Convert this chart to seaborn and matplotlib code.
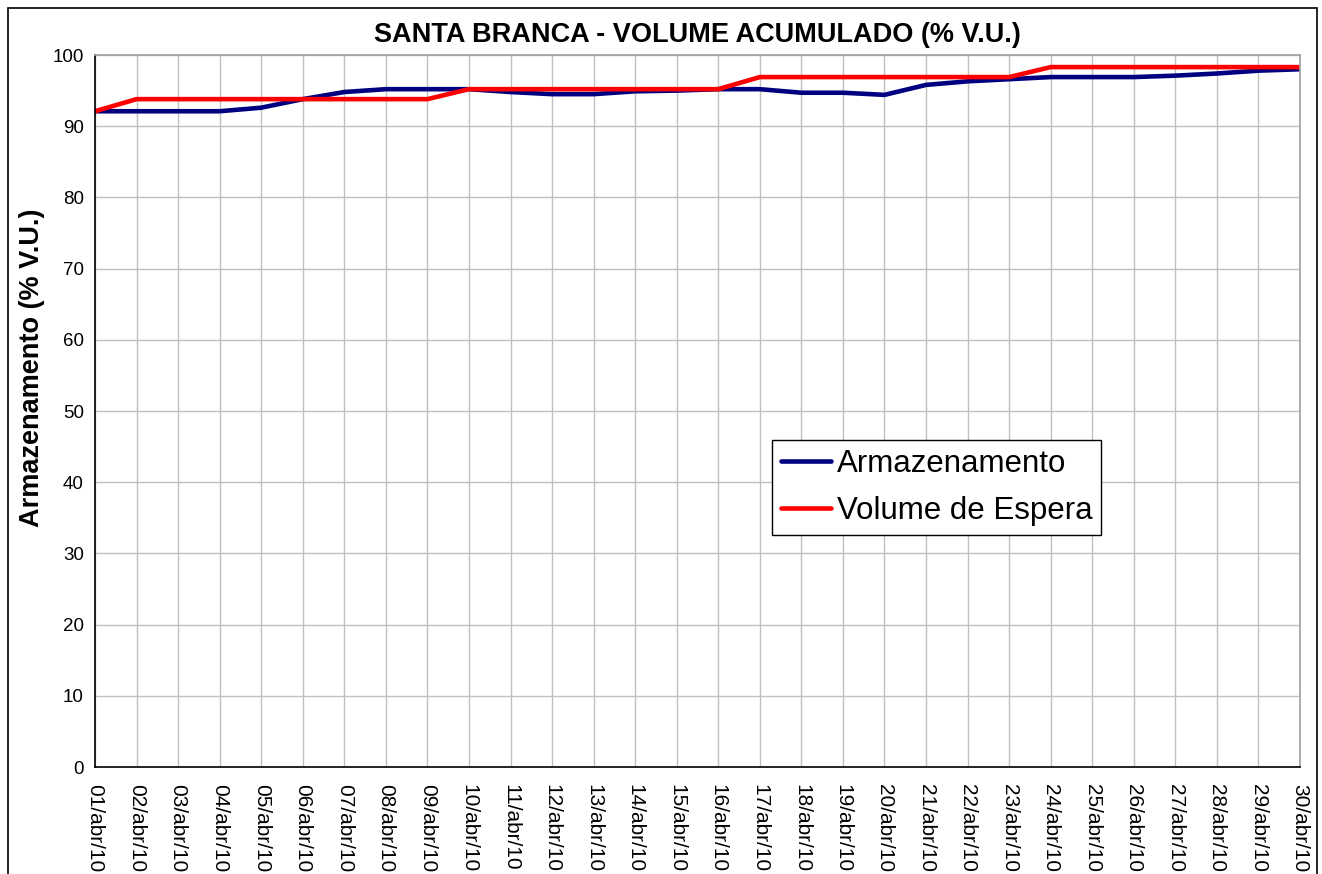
import matplotlib
matplotlib.use("Agg")
import matplotlib.pyplot as plt
import seaborn as sns
import pandas as pd
from matplotlib.patches import Rectangle

days = [f"{d:02d}/abr/10" for d in range(1, 31)]
armazenamento = [92.1, 92.1, 92.1, 92.1, 92.6, 93.8, 94.8, 95.2, 95.2, 95.2,
                 94.8, 94.5, 94.5, 94.9, 95.0, 95.2, 95.2, 94.7, 94.7, 94.4,
                 95.8, 96.3, 96.6, 96.9, 96.9, 96.9, 97.1, 97.4, 97.8, 98.0]
volume_espera = [92.1, 93.8, 93.8, 93.8, 93.8, 93.8, 93.8, 93.8, 93.8, 95.2,
                 95.2, 95.2, 95.2, 95.2, 95.2, 95.2, 96.9, 96.9, 96.9, 96.9,
                 96.9, 96.9, 96.9, 98.3, 98.3, 98.3, 98.3, 98.3, 98.3, 98.3]
series_names = ["Armazenamento", "Volume de Espera"]
colors = ["#000080", "#FF0000"]

sns.set_style("white")
plt.rcParams['font.family'] = ['Liberation Sans', 'DejaVu Sans']
plt.rcParams['text.color'] = 'black'
plt.rcParams['axes.labelcolor'] = 'black'
plt.rcParams['xtick.color'] = 'black'
plt.rcParams['ytick.color'] = 'black'

df = pd.DataFrame({
    "idx": list(range(len(days))) * 2,
    "valor": armazenamento + volume_espera,
    "serie": [series_names[0]] * len(days) + [series_names[1]] * len(days),
})

fig = plt.figure(figsize=(13.22, 8.74), dpi=100)
ax = fig.add_axes([95/1322, 1 - 767/874, (1300-95)/1322, (767-55)/874])

sns.lineplot(data=df, x="idx", y="valor", hue="serie", hue_order=series_names,
             palette=colors, linewidth=3.3, ax=ax, legend=True)

ax.set_xlim(0, len(days) - 1)
ax.set_ylim(0, 100)
ax.set_yticks(range(0, 101, 10))
ax.set_xticks(range(len(days)))
ax.set_xticklabels(days, rotation=270, fontsize=15)
ax.tick_params(axis='y', labelsize=13.5, direction='out', length=5, width=1, color='black', pad=3)
ax.tick_params(axis='x', direction='out', length=6, width=1, color='black', pad=6)
ax.grid(True, color='#c0c0c0', linewidth=1)
ax.set_axisbelow(True)
for s in ['left', 'bottom']:
    ax.spines[s].set_color('black')
    ax.spines[s].set_linewidth(1.2)
for s in ['top', 'right']:
    ax.spines[s].set_color('#a0a0a0')
    ax.spines[s].set_linewidth(1.2)

ax.set_xlabel("")
ax.set_ylabel("Armazenamento (% V.U.)", fontsize=19.5, fontweight='bold')
ax.yaxis.set_label_coords((45 - 95) / 1205, (767 - 368) / 712)
ax.set_title("SANTA BRANCA - VOLUME ACUMULADO (% V.U.)", fontsize=19.5, fontweight='bold', pad=9)

leg = ax.legend(title=None, loc='upper left',
                bbox_to_anchor=((772-95)/(1300-95), (767-440)/(767-55)),
                fontsize=22.5, frameon=True, fancybox=False, edgecolor='black',
                framealpha=1, handlelength=1.6, handletextpad=0.2,
                borderpad=0.28, labelspacing=0.55, borderaxespad=0)
leg.get_frame().set_linewidth(1)
for line in leg.get_lines():
    line.set_linewidth(3.3)

fig.patches.append(Rectangle((8/1322, -0.1), (1317-8)/1322, 1.1 - 8/874,
                             transform=fig.transFigure, fill=False,
                             edgecolor='black', linewidth=1.2))

fig.savefig("out.png", dpi=100)
